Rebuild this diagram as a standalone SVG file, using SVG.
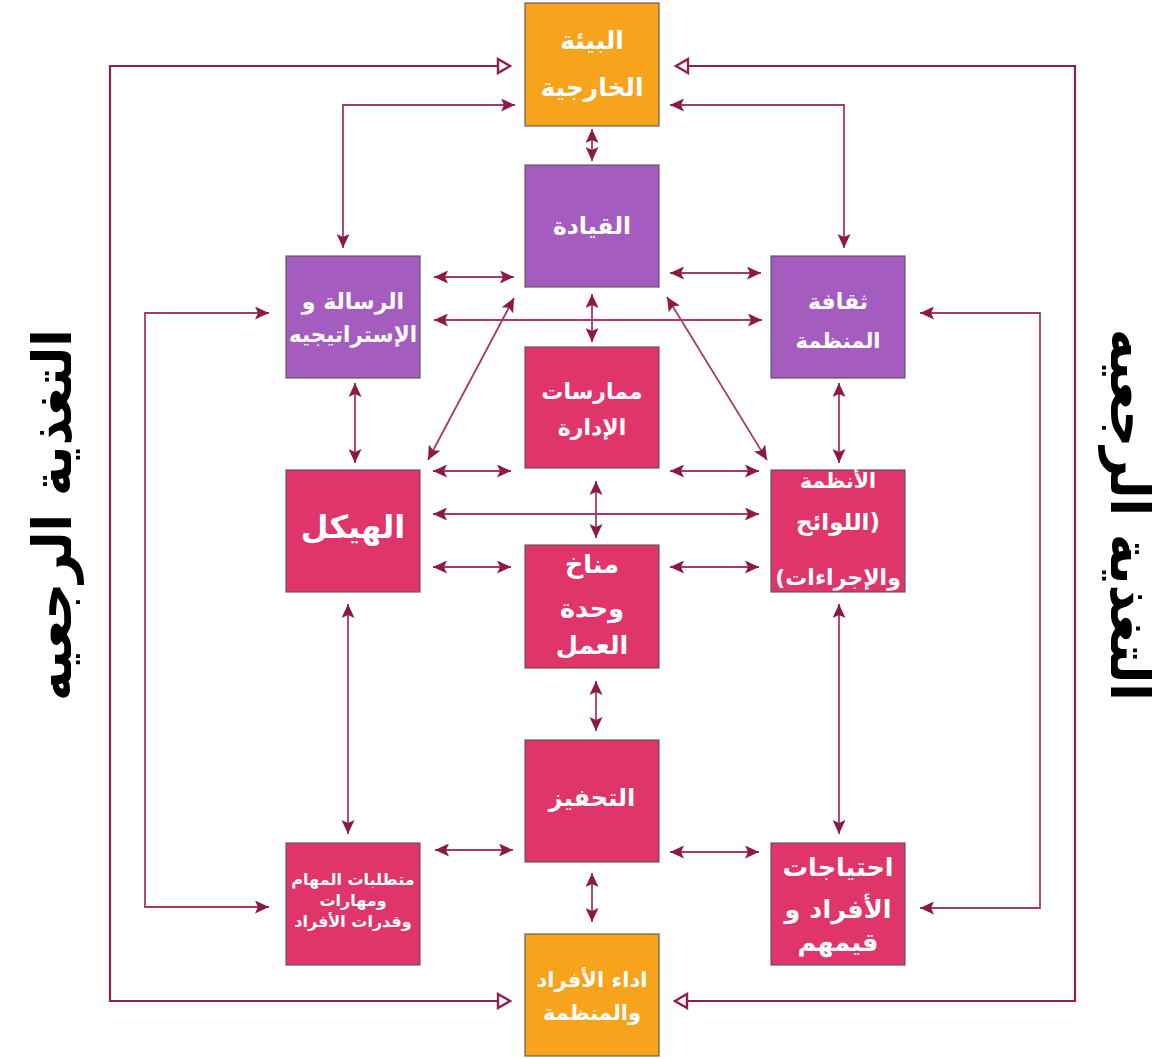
<svg xmlns="http://www.w3.org/2000/svg" width="1171" height="1058" viewBox="0 0 1171 1058">
  <style>
    .box { stroke: #5e5058; stroke-width: 1.5; stroke-opacity: 0.75; }
    .orange { fill: #F8A31C; }
    .purple { fill: #A45CBE; }
    .crimson { fill: #E0356A; }
    .lbl { fill: #ffffff; font-family: "DejaVu Sans", "Noto Sans", sans-serif; font-weight: bold; text-anchor: middle; direction: rtl; }
    .side { fill: #000000; font-family: "DejaVu Sans", sans-serif; font-weight: bold; font-size: 54px; text-anchor: middle; direction: rtl; dominant-baseline: central; }
    .link { fill: none; stroke: #A33A68; stroke-width: 1.8; }
    .two { marker-start: url(#head); marker-end: url(#head); }
    .loop { fill: none; stroke: #8E1F50; stroke-width: 2.2; marker-start: url(#hollow); marker-end: url(#hollow); }
  </style>
  <defs>
    <marker id="head" viewBox="0 0 14 13" refX="14" refY="6.5" markerWidth="14" markerHeight="13" markerUnits="userSpaceOnUse" orient="auto-start-reverse">
      <path d="M0,0 L14,6.5 L0,13 L3,6.5 z" fill="#8B1A47"/>
    </marker>
    <marker id="hollow" viewBox="0 0 16 18" refX="15" refY="9" markerWidth="16" markerHeight="18" markerUnits="userSpaceOnUse" orient="auto-start-reverse">
      <path d="M2,2 L14,9 L2,16 z" fill="#ffffff" stroke="#8E1F50" stroke-width="2.4" stroke-linejoin="miter"/>
    </marker>
  </defs>

  <rect width="1171" height="1058" fill="#ffffff"/>

  <!-- feedback captions -->
  <text class="side" transform="translate(52,515) rotate(-90)" textLength="372" lengthAdjust="spacingAndGlyphs">التغذية الرجعيه</text>
  <text class="side" transform="translate(1129,515) rotate(90)" textLength="372" lengthAdjust="spacingAndGlyphs">التغذية الرجعيه</text>

  <!-- connectors -->
  <g id="connectors">
    <!-- outer feedback loops -->
    <path class="loop" d="M511,66 L110,66 L110,1001 L511,1001"/>
    <path class="loop" d="M675,66 L1075,66 L1075,1001 L674,1001"/>
    <!-- environment to mission / culture -->
    <path class="link two" d="M515,105 L343,105 L343,248"/>
    <path class="link two" d="M670,105 L844,105 L844,248"/>
    <!-- side feedback brackets -->
    <path class="link two" d="M269,313 L145,313 L145,907 L269,907"/>
    <path class="link two" d="M920,313 L1040,313 L1040,908 L920,908"/>
    <!-- centre column -->
    <line class="link two" x1="592" y1="129" x2="592" y2="161"/>
    <line class="link two" x1="592" y1="294" x2="592" y2="342"/>
    <line class="link two" x1="596" y1="481" x2="596" y2="538"/>
    <line class="link two" x1="596" y1="681" x2="596" y2="731"/>
    <line class="link two" x1="592" y1="873" x2="592" y2="922"/>
    <!-- side columns -->
    <line class="link two" x1="355" y1="383" x2="355" y2="463"/>
    <line class="link two" x1="839" y1="383" x2="839" y2="463"/>
    <line class="link two" x1="348" y1="604" x2="348" y2="834"/>
    <line class="link two" x1="839" y1="604" x2="839" y2="834"/>
    <!-- horizontal links -->
    <line class="link two" x1="434" y1="277" x2="514" y2="277"/>
    <line class="link two" x1="670" y1="273" x2="761" y2="273"/>
    <line class="link two" x1="434" y1="320" x2="762" y2="320"/>
    <line class="link two" x1="433" y1="471" x2="511" y2="471"/>
    <line class="link two" x1="670" y1="471" x2="759" y2="471"/>
    <line class="link two" x1="433" y1="514" x2="759" y2="514"/>
    <line class="link two" x1="433" y1="567" x2="511" y2="567"/>
    <line class="link two" x1="670" y1="567" x2="759" y2="567"/>
    <line class="link two" x1="435" y1="850" x2="513" y2="850"/>
    <line class="link two" x1="670" y1="852" x2="759" y2="852"/>
    <!-- diagonals from leadership -->
    <line class="link two" x1="514" y1="298" x2="428" y2="460"/>
    <line class="link two" x1="667" y1="297" x2="767" y2="460"/>
  </g>

  <!-- nodes -->
  <g id="external-environment">
    <rect class="box orange" x="525" y="3" width="134" height="123"/>
    <text class="lbl" font-size="25" x="592" y="49">البيئة</text>
    <text class="lbl" font-size="25" x="592" y="96">الخارجية</text>
  </g>
  <g id="leadership">
    <rect class="box purple" x="525" y="165" width="134" height="122"/>
    <text class="lbl" font-size="23.5" x="592" y="234">القيادة</text>
  </g>
  <g id="mission-strategy">
    <rect class="box purple" x="286" y="256" width="134" height="122"/>
    <text class="lbl" font-size="22" x="353" y="309">الرسالة و</text>
    <text class="lbl" font-size="22" x="353" y="342" textLength="128" lengthAdjust="spacingAndGlyphs">الإستراتيجيه</text>
  </g>
  <g id="org-culture">
    <rect class="box purple" x="771" y="256" width="134" height="122"/>
    <text class="lbl" font-size="22" x="838" y="309">ثقافة</text>
    <text class="lbl" font-size="21" x="838" y="348">المنظمة</text>
  </g>
  <g id="management-practices">
    <rect class="box crimson" x="525" y="347" width="134" height="121"/>
    <text class="lbl" font-size="22" x="592" y="399">ممارسات</text>
    <text class="lbl" font-size="22" x="592" y="435">الإدارة</text>
  </g>
  <g id="structure">
    <rect class="box crimson" x="286" y="470" width="134" height="122"/>
    <text class="lbl" font-size="32" x="353" y="538">الهيكل</text>
  </g>
  <g id="systems">
    <rect class="box crimson" x="771" y="470" width="134" height="122"/>
    <text class="lbl" font-size="20.5" x="838" y="488">الأنظمة</text>
    <text class="lbl" font-size="23" x="838" y="530">(اللوائح</text>
    <text class="lbl" font-size="22" x="838" y="585">والإجراءات)</text>
  </g>
  <g id="work-climate">
    <rect class="box crimson" x="525" y="545" width="134" height="123"/>
    <text class="lbl" font-size="25.5" x="592" y="573">مناخ</text>
    <text class="lbl" font-size="25.5" x="592" y="617">وحدة</text>
    <text class="lbl" font-size="25.5" x="592" y="654">العمل</text>
  </g>
  <g id="motivation">
    <rect class="box crimson" x="525" y="740" width="134" height="122"/>
    <text class="lbl" font-size="24" x="592" y="806">التحفيز</text>
  </g>
  <g id="task-requirements">
    <rect class="box crimson" x="286" y="843" width="134" height="122"/>
    <text class="lbl" font-size="16" x="353" y="885">متطلبات المهام</text>
    <text class="lbl" font-size="16" x="353" y="906">ومهارات</text>
    <text class="lbl" font-size="16" x="353" y="927">وقدرات الأفراد</text>
  </g>
  <g id="individual-needs">
    <rect class="box crimson" x="771" y="843" width="134" height="122"/>
    <text class="lbl" font-size="25.5" x="838" y="876">احتياجات</text>
    <text class="lbl" font-size="25.5" x="838" y="918">الأفراد و</text>
    <text class="lbl" font-size="25.5" x="838" y="951">قيمهم</text>
  </g>
  <g id="performance">
    <rect class="box orange" x="525" y="934" width="134" height="122"/>
    <text class="lbl" font-size="21" x="592" y="987">اداء الأفراد</text>
    <text class="lbl" font-size="21" x="592" y="1020">والمنظمة</text>
  </g>
</svg>
